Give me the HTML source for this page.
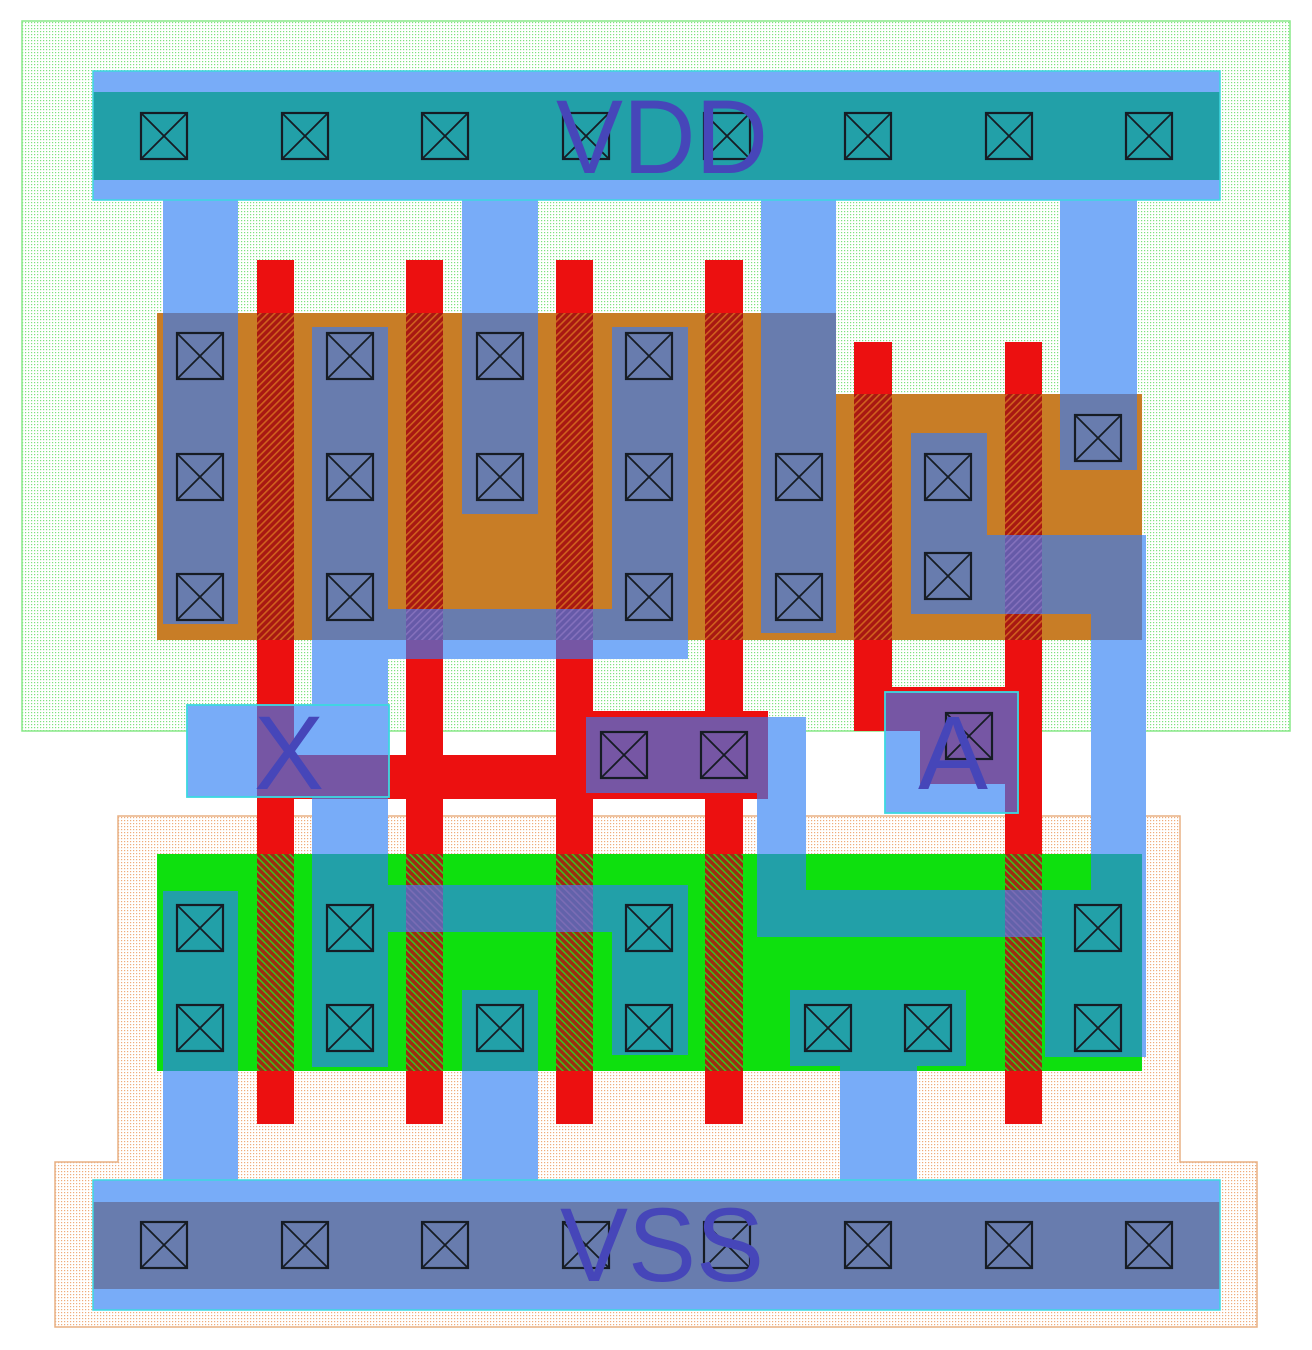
<!DOCTYPE html>
<html>
<head>
<meta charset="utf-8">
<style>
html,body{margin:0;padding:0;background:#ffffff;}
svg{display:block;}
</style>
</head>
<body>
<svg width="1312" height="1350" viewBox="0 0 1312 1350" xmlns="http://www.w3.org/2000/svg" xmlns:xlink="http://www.w3.org/1999/xlink">
<defs>
<pattern id="nwdots" width="3" height="3" patternUnits="userSpaceOnUse"><rect width="3" height="3" fill="#ffffff"/><rect x="1" y="1" width="1.2" height="1.2" fill="#7ee27e"/></pattern>
<pattern id="psdots" width="3" height="3" patternUnits="userSpaceOnUse"><rect width="3" height="3" fill="#ffffff"/><rect x="1" y="1" width="1.2" height="1.2" fill="#eeac7a"/></pattern>
<pattern id="hp" width="5" height="5" patternUnits="userSpaceOnUse" patternTransform="rotate(45)"><rect width="5" height="5" fill="#a81812"/><rect width="1.6" height="5" fill="#d0601e"/></pattern>
<pattern id="hn" width="5" height="5" patternUnits="userSpaceOnUse" patternTransform="rotate(-45)"><rect width="5" height="5" fill="#a02a12"/><rect width="1.6" height="5" fill="#3cc020"/></pattern>
<pattern id="hmp" width="5" height="5" patternUnits="userSpaceOnUse" patternTransform="rotate(45)"><rect width="5" height="5" fill="#665aa8"/><rect width="1.6" height="5" fill="#8470bc"/></pattern>
<pattern id="hmn" width="5" height="5" patternUnits="userSpaceOnUse" patternTransform="rotate(-45)"><rect width="5" height="5" fill="#6262aa"/><rect width="1.6" height="5" fill="#7a6cb4"/></pattern>
<g id="poly">
<rect x="257" y="260" width="37" height="864"/>
<rect x="406" y="260" width="37" height="864"/>
<rect x="556" y="260" width="37" height="864"/>
<rect x="705" y="260" width="38" height="864"/>
<rect x="257" y="755" width="336" height="44"/>
<rect x="593" y="711" width="175" height="88"/>
<rect x="854" y="342" width="38" height="389"/>
<rect x="1005" y="342" width="37" height="782"/>
<rect x="854" y="687" width="188" height="44"/>
<rect x="920" y="731" width="122" height="53"/>
</g>
<g id="metal">
<rect x="163" y="200" width="75" height="424"/>
<rect x="462" y="200" width="76" height="314"/>
<rect x="761" y="200" width="75" height="433"/>
<rect x="1060" y="200" width="77" height="270"/>
<rect x="312" y="327" width="76" height="740"/>
<rect x="612" y="327" width="76" height="332"/>
<rect x="388" y="609" width="300" height="50"/>
<rect x="388" y="885" width="300" height="47"/>
<rect x="612" y="885" width="76" height="170"/>
<rect x="187" y="705" width="202" height="92"/>
<rect x="163" y="891" width="75" height="289"/>
<rect x="462" y="990" width="76" height="190"/>
<rect x="790" y="990" width="176" height="76"/>
<rect x="840" y="1066" width="77" height="114"/>
<rect x="586" y="717" width="220" height="76"/>
<rect x="757" y="717" width="49" height="220"/>
<rect x="757" y="890" width="389" height="47"/>
<rect x="1091" y="535" width="55" height="522"/>
<rect x="1045" y="890" width="101" height="167"/>
<rect x="911" y="433" width="76" height="181"/>
<rect x="987" y="535" width="159" height="79"/>
<rect x="885" y="692" width="133" height="121"/>
</g>
<clipPath id="cPdiff"><polygon points="157,313 836,313 836,394 1142,394 1142,640 157,640"/></clipPath>
<clipPath id="cNdiff"><rect x="157" y="854" width="985" height="217"/></clipPath>
<clipPath id="cPoly">
<rect x="257" y="260" width="37" height="864"/>
<rect x="406" y="260" width="37" height="864"/>
<rect x="556" y="260" width="37" height="864"/>
<rect x="705" y="260" width="38" height="864"/>
<rect x="257" y="755" width="336" height="44"/>
<rect x="593" y="711" width="175" height="88"/>
<rect x="854" y="342" width="38" height="389"/>
<rect x="1005" y="342" width="37" height="782"/>
<rect x="854" y="687" width="188" height="44"/>
<rect x="920" y="731" width="122" height="53"/>
</clipPath>
<g id="ct">
<rect x="1" y="1" width="46" height="46" fill="none" stroke="#161c24" stroke-width="2.2"/>
<line x1="1" y1="1" x2="47" y2="47" stroke="#161c24" stroke-width="1.8"/>
<line x1="47" y1="1" x2="1" y2="47" stroke="#161c24" stroke-width="1.8"/>
</g>
</defs>

<rect x="0" y="0" width="1312" height="1350" fill="#ffffff"/>
<rect x="22" y="21" width="1268" height="710" fill="url(#nwdots)" stroke="#88e888" stroke-width="1.5"/>
<polygon points="118,816 1180,816 1180,1162 1257,1162 1257,1327 55,1327 55,1162 118,1162" fill="url(#psdots)" stroke="#e8b084" stroke-width="1.5"/>

<polygon points="157,313 836,313 836,394 1142,394 1142,640 157,640" fill="#c87d26"/>
<rect x="157" y="854" width="985" height="217" fill="#0ee00e"/>

<use xlink:href="#poly" href="#poly" fill="#ec1010"/>
<g clip-path="url(#cPdiff)"><use xlink:href="#poly" href="#poly" fill="url(#hp)"/></g>
<g clip-path="url(#cNdiff)"><use xlink:href="#poly" href="#poly" fill="url(#hn)"/></g>

<use xlink:href="#metal" href="#metal" fill="#78acf8"/>
<g clip-path="url(#cPdiff)"><use xlink:href="#metal" href="#metal" fill="#687cae"/></g>
<g clip-path="url(#cNdiff)"><use xlink:href="#metal" href="#metal" fill="#22a0a8"/></g>
<g clip-path="url(#cPoly)"><use xlink:href="#metal" href="#metal" fill="#7656a4"/></g>
<g clip-path="url(#cPoly)"><g clip-path="url(#cPdiff)"><use xlink:href="#metal" href="#metal" fill="url(#hmp)"/></g></g>
<g clip-path="url(#cPoly)"><g clip-path="url(#cNdiff)"><use xlink:href="#metal" href="#metal" fill="url(#hmn)"/></g></g>

<rect x="93" y="71" width="1127" height="129" fill="#78acf8"/>
<rect x="93" y="92" width="1127" height="88" fill="#22a0a8"/>
<rect x="93" y="71" width="1127" height="129" fill="none" stroke="#3cd8e0" stroke-width="1.5"/>
<rect x="93" y="1180" width="1127" height="130" fill="#78acf8"/>
<rect x="93" y="1202" width="1127" height="87" fill="#687cae"/>
<rect x="93" y="1180" width="1127" height="130" fill="none" stroke="#3cd8e0" stroke-width="1.5"/>

<rect x="187" y="705" width="202" height="92" fill="none" stroke="#3cd8e0" stroke-width="1.8"/>
<rect x="885" y="692" width="133" height="121" fill="none" stroke="#3cd8e0" stroke-width="1.8"/>

<use href="#ct" xlink:href="#ct" x="140" y="112"/><use href="#ct" xlink:href="#ct" x="281" y="112"/><use href="#ct" xlink:href="#ct" x="421" y="112"/><use href="#ct" xlink:href="#ct" x="562" y="112"/><use href="#ct" xlink:href="#ct" x="703" y="112"/><use href="#ct" xlink:href="#ct" x="844" y="112"/><use href="#ct" xlink:href="#ct" x="985" y="112"/><use href="#ct" xlink:href="#ct" x="1125" y="112"/>
<use href="#ct" xlink:href="#ct" x="140" y="1221"/><use href="#ct" xlink:href="#ct" x="281" y="1221"/><use href="#ct" xlink:href="#ct" x="421" y="1221"/><use href="#ct" xlink:href="#ct" x="562" y="1221"/><use href="#ct" xlink:href="#ct" x="703" y="1221"/><use href="#ct" xlink:href="#ct" x="844" y="1221"/><use href="#ct" xlink:href="#ct" x="985" y="1221"/><use href="#ct" xlink:href="#ct" x="1125" y="1221"/>
<use href="#ct" xlink:href="#ct" x="176" y="332"/><use href="#ct" xlink:href="#ct" x="176" y="453"/><use href="#ct" xlink:href="#ct" x="176" y="573"/>
<use href="#ct" xlink:href="#ct" x="326" y="332"/><use href="#ct" xlink:href="#ct" x="326" y="453"/><use href="#ct" xlink:href="#ct" x="326" y="573"/>
<use href="#ct" xlink:href="#ct" x="476" y="332"/><use href="#ct" xlink:href="#ct" x="476" y="453"/>
<use href="#ct" xlink:href="#ct" x="625" y="332"/><use href="#ct" xlink:href="#ct" x="625" y="453"/><use href="#ct" xlink:href="#ct" x="625" y="573"/>
<use href="#ct" xlink:href="#ct" x="775" y="453"/><use href="#ct" xlink:href="#ct" x="775" y="573"/>
<use href="#ct" xlink:href="#ct" x="924" y="453"/><use href="#ct" xlink:href="#ct" x="924" y="552"/>
<use href="#ct" xlink:href="#ct" x="1074" y="414"/>
<use href="#ct" xlink:href="#ct" x="600" y="731"/><use href="#ct" xlink:href="#ct" x="700" y="731"/><use href="#ct" xlink:href="#ct" x="945" y="712"/>
<use href="#ct" xlink:href="#ct" x="176" y="904"/><use href="#ct" xlink:href="#ct" x="176" y="1004"/>
<use href="#ct" xlink:href="#ct" x="326" y="904"/><use href="#ct" xlink:href="#ct" x="326" y="1004"/>
<use href="#ct" xlink:href="#ct" x="476" y="1004"/>
<use href="#ct" xlink:href="#ct" x="625" y="904"/><use href="#ct" xlink:href="#ct" x="625" y="1004"/>
<use href="#ct" xlink:href="#ct" x="804" y="1004"/><use href="#ct" xlink:href="#ct" x="904" y="1004"/>
<use href="#ct" xlink:href="#ct" x="1074" y="904"/><use href="#ct" xlink:href="#ct" x="1074" y="1004"/>

<g font-family="'Liberation Sans', Arial, sans-serif" font-size="105" fill="#4646b9" text-anchor="middle">
<text x="662" y="173" textLength="212" lengthAdjust="spacingAndGlyphs">VDD</text>
<text x="662" y="1281" textLength="204" lengthAdjust="spacingAndGlyphs">VSS</text>
<text x="289" y="789">X</text>
<text x="953" y="789">A</text>
</g>
</svg>
</body>
</html>
